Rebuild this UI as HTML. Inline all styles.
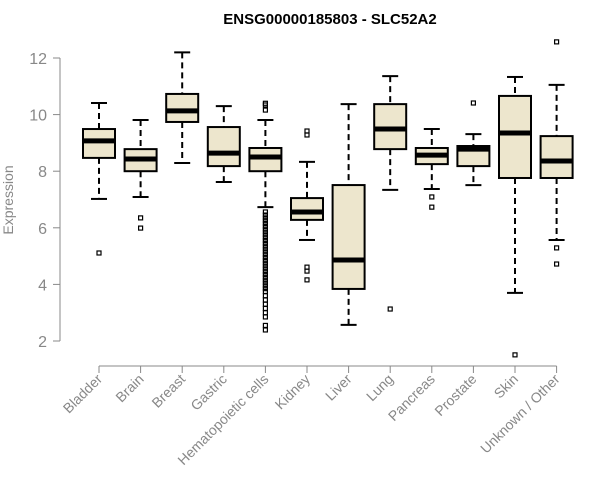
<!DOCTYPE html>
<html><head><meta charset="utf-8"><style>
body{margin:0;background:#fff}
svg{display:block;font-family:"Liberation Sans",Arial,sans-serif}
</style></head><body>
<svg id="chart" width="600" height="500">
<text x="330" y="24" text-anchor="middle" font-weight="bold" font-size="15">ENSG00000185803 - SLC52A2</text>
<text transform="translate(13,200) rotate(-90)" text-anchor="middle" font-size="14" fill="#888">Expression</text>
<g id="g"></g>
</svg>
<script>
const categories=["Bladder","Brain","Breast","Gastric","Hematopoietic cells","Kidney","Liver","Lung","Pancreas","Prostate","Skin","Unknown / Other"];
const whiskerHigh=[10.41,9.81,12.2,10.3,9.81,8.33,10.37,11.36,9.49,9.31,11.33,11.05];
const q3=[9.49,8.78,10.73,9.56,8.82,7.05,7.51,10.37,8.82,8.89,10.66,9.24];
const medians=[9.07,8.43,10.13,8.64,8.5,6.56,4.86,9.49,8.57,8.78,9.35,8.36];
const q1=[8.47,8.0,9.74,8.18,8.0,6.28,3.84,8.78,8.25,8.18,7.76,7.76];
const whiskerLow=[7.02,7.09,8.29,7.62,6.73,5.57,2.57,7.34,7.37,7.51,3.7,5.57];
const outliers=[[5.11],[6.35,5.99],[],[],
[10.4,10.34,10.16,6.56,6.45,6.35,6.25,6.15,6.05,5.95,5.85,5.75,5.65,5.55,5.45,5.35,5.25,5.15,5.05,4.95,4.85,4.75,4.65,4.55,4.45,4.35,4.25,4.15,4.05,3.95,3.85,3.75,3.6,3.45,3.3,3.15,3.0,2.85,2.55,2.39],
[9.42,9.28,4.61,4.47,4.16],[],[3.13],[7.09,6.73],[10.41],[1.51],[12.57,5.29,4.72]];
const yTicks=[2,4,6,8,10,12];
const y=v=>341-(v-2)*28.3;
const x=i=>99+i*41.6;
const g=document.getElementById('g');
const NS="http://www.w3.org/2000/svg";
function mk(t,a){const e=document.createElementNS(NS,t);for(const k in a)e.setAttribute(k,a[k]);g.appendChild(e);return e;}
let ax=mk('line',{x1:60,x2:60,y1:y(12),y2:y(2),stroke:'#888'});


yTicks.forEach(t=>{
 let l=mk('line',{x1:53,x2:60,y1:y(t),y2:y(t),stroke:'#888'});
 
 
 let tx=mk('text',{x:47,y:y(t)+6,'text-anchor':'end','font-size':16,fill:'#888'});tx.textContent=t;
 
 
});
let xa=mk('line',{x1:x(0),x2:x(11),y1:366,y2:366,stroke:'#888'});


categories.forEach((c,i)=>{
 const cx=x(i),w=16;
 let t=mk('line',{x1:cx,x2:cx,y1:366,y2:373,stroke:'#888'});
 
 
 let lb=mk('text',{x:cx+4,y:380,'text-anchor':'end','font-size':14,fill:'#888',transform:`rotate(-45 ${cx+4} 380)`});lb.textContent=c;
 
 
 let wh=mk('line',{x1:cx,x2:cx,y1:y(whiskerHigh[i]),y2:y(q3[i]),stroke:'#000','stroke-width':2,'stroke-dasharray':'6,4'});
 
 
 let wl=mk('line',{x1:cx,x2:cx,y1:y(q1[i]),y2:y(whiskerLow[i]),stroke:'#000','stroke-width':2,'stroke-dasharray':'6,4'});
 
 
 [whiskerHigh[i],whiskerLow[i]].forEach(v=>{let c2=mk('line',{x1:cx-8,x2:cx+8,y1:y(v),y2:y(v),stroke:'#000','stroke-width':2});
 
 });
 let b=mk('rect',{x:cx-w,y:y(q3[i]),width:2*w,height:y(q1[i])-y(q3[i]),fill:'#ede6cd',stroke:'#000','stroke-width':2});
 
 
 let m=mk('line',{x1:cx-w,x2:cx+w,y1:y(medians[i]),y2:y(medians[i]),stroke:'#000','stroke-width':5});
 
 
 outliers[i].forEach(v=>{let o=mk('rect',{x:cx-2,y:y(v)-2,width:4,height:4,fill:'none',stroke:'#000','stroke-width':1.2});
 
 });
});
</script>
</body></html>
